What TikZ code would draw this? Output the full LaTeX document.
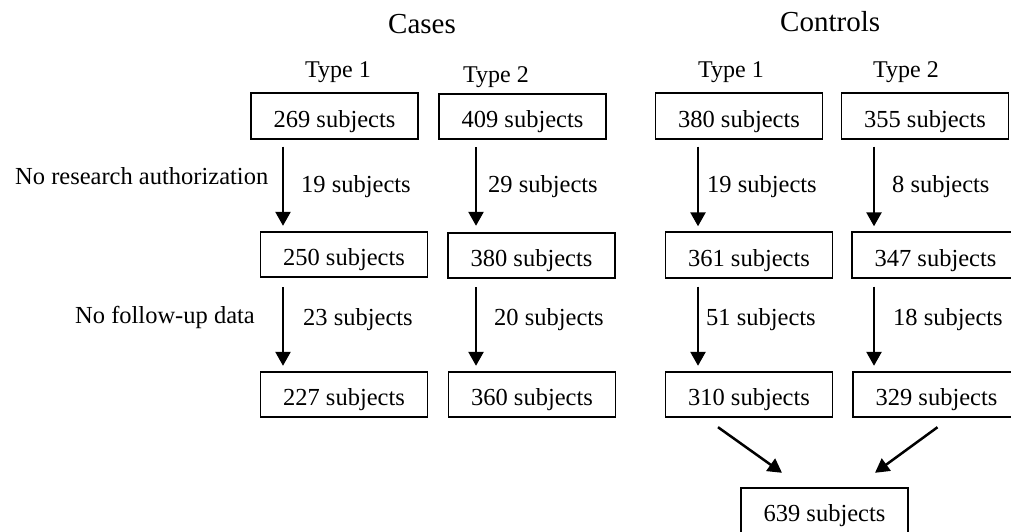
\documentclass[tikz,border=0pt]{standalone}
\usepackage{fontspec}
\setmainfont{Liberation Serif}
\usetikzlibrary{arrows.meta}
\tikzset{
  box/.style={draw, line width=1.9pt, minimum width=167pt, minimum height=45.5pt, inner sep=0pt,
    text height=22pt, text depth=0pt, font=\fontsize{24.5}{28}\selectfont},
  lbl/.style={anchor=base west, inner sep=0pt, font=\fontsize{24.5}{28}\selectfont},
  head/.style={anchor=base west, inner sep=0pt, font=\fontsize{29}{32}\selectfont},
  typ/.style={anchor=base west, inner sep=0pt, font=\fontsize{24}{28}\selectfont},
  arr/.style={line width=2.5pt, -{Triangle[length=14pt,width=15pt]}},
}
\begin{document}
\begin{tikzpicture}[x=1pt,y=-1pt]
\useasboundingbox (0,0) rectangle (1011,531);
% headings
\node[head] (hcases) at (388,33) {Cases};
\node[head] (hcontrols) at (780,31) {Controls};
\node[typ] (t1a) at (305,77) {Type 1};
\node[typ] (t2a) at (463,82) {Type 2};
\node[typ] (t1b) at (698,77) {Type 1};
\node[typ] (t2b) at (873,77) {Type 2};
% boxes
\node[box] (c1a) at (334.5,116) {269 subjects};
\node[box] (c2a) at (522.5,116.5) {409 subjects};
\node[box] (c1b) at (344,254.5) {250 subjects};
\node[box] (c2b) at (531.5,255.5) {380 subjects};
\node[box] (c1c) at (344,394.5) {227 subjects};
\node[box] (c2c) at (532,394.5) {360 subjects};
\node[box] (k1a) at (739,116) {380 subjects};
\node[box] (k2a) at (925,116) {355 subjects};
\node[box] (k1b) at (749,255) {361 subjects};
\node[box] (k2b) at (935.5,255) {347 subjects};
\node[box] (k1c) at (749,394.5) {310 subjects};
\node[box] (k2c) at (936.5,394.5) {329 subjects};
\node[box] (k3) at (824.5,510.5) {639 subjects};
% side labels
\node[lbl] (nra) at (15,184) {No research authorization};
\node[lbl] (nfu) at (75,323) {No follow-up data};
% arrow x positions
\coordinate (xA) at (283,0);
\coordinate (xB) at (476,0);
\coordinate (xC) at (698,0);
\coordinate (xD) at (874,0);
% vertical arrows
\draw[arr, shorten <=7pt, shorten >=5pt] (c1a.south -| xA) -- (c1b.north -| xA);
\draw[arr, shorten <=7pt, shorten >=6pt] (c2a.south -| xB) -- (c2b.north -| xB);
\draw[arr, shorten <=7pt, shorten >=5pt] (k1a.south -| xC) -- (k1b.north -| xC);
\draw[arr, shorten <=7pt, shorten >=5pt] (k2a.south -| xD) -- (k2b.north -| xD);
\draw[arr, shorten <=9pt, shorten >=5pt] (c1b.south -| xA) -- (c1c.north -| xA);
\draw[arr, shorten <=8pt, shorten >=5pt] (c2b.south -| xB) -- (c2c.north -| xB);
\draw[arr, shorten <=8pt, shorten >=5pt] (k1b.south -| xC) -- (k1c.north -| xC);
\draw[arr, shorten <=8pt, shorten >=5pt] (k2b.south -| xD) -- (k2c.north -| xD);
% diagonal arrows
\draw[arr] ([xshift=-31pt,yshift=-9pt]k1c.south) -- ([xshift=-42.5pt,yshift=14pt]k3.north);
\draw[arr] ([xshift=1pt,yshift=-9pt]k2c.south) -- ([xshift=50.5pt,yshift=14pt]k3.north);
% arrow labels
\node[lbl] (l1) at (301,192) {19 subjects};
\node[lbl] (l2) at (488,192) {29 subjects};
\node[lbl] (l3) at (707,192) {19 subjects};
\node[lbl] (l4) at (892,192) {8 subjects};
\node[lbl] (l5) at (303,325) {23 subjects};
\node[lbl] (l6) at (494,325) {20 subjects};
\node[lbl] (l7) at (706,325) {51 subjects};
\node[lbl] (l8) at (893,325) {18 subjects};
\end{tikzpicture}
\end{document}
